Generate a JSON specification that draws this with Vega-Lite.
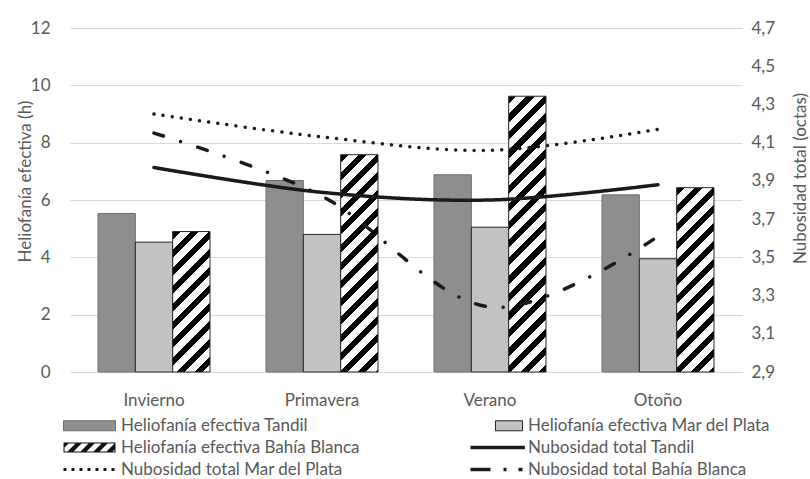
{
  "$schema": "https://vega.github.io/schema/vega-lite/v6.json",
  "width": 672,
  "height": 344,
  "autosize": {"type": "none"},
  "padding": {"left": 70, "top": 28, "right": 68, "bottom": 107},
  "background": "#ffffff",
  "data": {
    "values": [
      {"estacion": "Invierno", "serie": "Heliofanía efectiva Tandil", "tipo": "barra", "valor": 5.53},
      {"estacion": "Invierno", "serie": "Heliofanía efectiva Mar del Plata", "tipo": "barra", "valor": 4.53},
      {"estacion": "Invierno", "serie": "Heliofanía efectiva Bahía Blanca", "tipo": "barra", "valor": 4.90},
      {"estacion": "Primavera", "serie": "Heliofanía efectiva Tandil", "tipo": "barra", "valor": 6.68},
      {"estacion": "Primavera", "serie": "Heliofanía efectiva Mar del Plata", "tipo": "barra", "valor": 4.80},
      {"estacion": "Primavera", "serie": "Heliofanía efectiva Bahía Blanca", "tipo": "barra", "valor": 7.58},
      {"estacion": "Verano", "serie": "Heliofanía efectiva Tandil", "tipo": "barra", "valor": 6.88},
      {"estacion": "Verano", "serie": "Heliofanía efectiva Mar del Plata", "tipo": "barra", "valor": 5.05},
      {"estacion": "Verano", "serie": "Heliofanía efectiva Bahía Blanca", "tipo": "barra", "valor": 9.62},
      {"estacion": "Otoño", "serie": "Heliofanía efectiva Tandil", "tipo": "barra", "valor": 6.18},
      {"estacion": "Otoño", "serie": "Heliofanía efectiva Mar del Plata", "tipo": "barra", "valor": 3.95},
      {"estacion": "Otoño", "serie": "Heliofanía efectiva Bahía Blanca", "tipo": "barra", "valor": 6.43},
      {"estacion": "Invierno", "serie": "Nubosidad total Tandil", "tipo": "linea", "valor": 3.97},
      {"estacion": "Primavera", "serie": "Nubosidad total Tandil", "tipo": "linea", "valor": 3.84},
      {"estacion": "Verano", "serie": "Nubosidad total Tandil", "tipo": "linea", "valor": 3.80},
      {"estacion": "Otoño", "serie": "Nubosidad total Tandil", "tipo": "linea", "valor": 3.88},
      {"estacion": "Invierno", "serie": "Nubosidad total Mar del Plata", "tipo": "linea", "valor": 4.25},
      {"estacion": "Primavera", "serie": "Nubosidad total Mar del Plata", "tipo": "linea", "valor": 4.13},
      {"estacion": "Verano", "serie": "Nubosidad total Mar del Plata", "tipo": "linea", "valor": 4.06},
      {"estacion": "Otoño", "serie": "Nubosidad total Mar del Plata", "tipo": "linea", "valor": 4.17},
      {"estacion": "Invierno", "serie": "Nubosidad total Bahía Blanca", "tipo": "linea", "valor": 4.15},
      {"estacion": "Primavera", "serie": "Nubosidad total Bahía Blanca", "tipo": "linea", "valor": 3.82},
      {"estacion": "Verano", "serie": "Nubosidad total Bahía Blanca", "tipo": "linea", "valor": 3.24},
      {"estacion": "Otoño", "serie": "Nubosidad total Bahía Blanca", "tipo": "linea", "valor": 3.61}
    ]
  },
  "layer": [
    {
      "transform": [{"filter": "datum.tipo === 'barra'"}],
      "mark": {"type": "bar", "strokeWidth": 1},
      "encoding": {
        "x": {
          "field": "estacion", "type": "nominal", "sort": null,
          "scale": {"domain": ["Invierno", "Primavera", "Verano", "Otoño"], "paddingInner": 0.3333, "paddingOuter": 0.1667},
          "axis": {"title": null, "labelAngle": 0, "labelPadding": 20, "domain": true, "domainColor": "#d9d9d9", "ticks": false}
        },
        "xOffset": {
          "field": "serie", "type": "nominal", "sort": null,
          "scale": {"domain": ["Heliofanía efectiva Tandil", "Heliofanía efectiva Mar del Plata", "Heliofanía efectiva Bahía Blanca"], "paddingInner": 0, "paddingOuter": 0}
        },
        "y": {
          "field": "valor", "type": "quantitative",
          "scale": {"domain": [0, 12], "nice": false},
          "axis": {"orient": "left", "values": [0, 2, 4, 6, 8, 10, 12], "grid": true, "title": "Heliofanía efectiva (h)", "labelPadding": 20, "titleX": -45, "titleY": 153, "titleAngle": 270, "titleBaseline": "middle", "titleAlign": "center"}
        },
        "stroke": {
          "condition": {"test": "datum.serie === 'Heliofanía efectiva Tandil'", "value": "#6e6e6e"},
          "value": "#262626"
        },
        "fill": {
          "condition": [
            {"test": "datum.serie === 'Heliofanía efectiva Tandil'", "value": "#8f8d8e"},
            {"test": "datum.serie === 'Heliofanía efectiva Mar del Plata'", "value": "#c2c2c2"},
            {"test": "datum.estacion === 'Invierno'", "value": {"gradient": "linear", "x1": 0, "y1": 0, "x2": 0.5726, "y2": 2.1544, "stops": [{"offset":0,"color":"#000"},{"offset":0.025,"color":"#000"},{"offset":0.025,"color":"#fff"},{"offset":0.0556,"color":"#fff"},{"offset":0.0556,"color":"#000"},{"offset":0.0806,"color":"#000"},{"offset":0.0806,"color":"#fff"},{"offset":0.1111,"color":"#fff"},{"offset":0.1111,"color":"#000"},{"offset":0.1361,"color":"#000"},{"offset":0.1361,"color":"#fff"},{"offset":0.1667,"color":"#fff"},{"offset":0.1667,"color":"#000"},{"offset":0.1917,"color":"#000"},{"offset":0.1917,"color":"#fff"},{"offset":0.2222,"color":"#fff"},{"offset":0.2222,"color":"#000"},{"offset":0.2472,"color":"#000"},{"offset":0.2472,"color":"#fff"},{"offset":0.2778,"color":"#fff"},{"offset":0.2778,"color":"#000"},{"offset":0.3028,"color":"#000"},{"offset":0.3028,"color":"#fff"},{"offset":0.3333,"color":"#fff"},{"offset":0.3333,"color":"#000"},{"offset":0.3583,"color":"#000"},{"offset":0.3583,"color":"#fff"},{"offset":0.3889,"color":"#fff"},{"offset":0.3889,"color":"#000"},{"offset":0.4139,"color":"#000"},{"offset":0.4139,"color":"#fff"},{"offset":0.4444,"color":"#fff"},{"offset":0.4444,"color":"#000"},{"offset":0.4694,"color":"#000"},{"offset":0.4694,"color":"#fff"},{"offset":0.5,"color":"#fff"},{"offset":0.5,"color":"#000"},{"offset":0.525,"color":"#000"},{"offset":0.525,"color":"#fff"},{"offset":0.5556,"color":"#fff"},{"offset":0.5556,"color":"#000"},{"offset":0.5806,"color":"#000"},{"offset":0.5806,"color":"#fff"},{"offset":0.6111,"color":"#fff"},{"offset":0.6111,"color":"#000"},{"offset":0.6361,"color":"#000"},{"offset":0.6361,"color":"#fff"},{"offset":0.6667,"color":"#fff"},{"offset":0.6667,"color":"#000"},{"offset":0.6917,"color":"#000"},{"offset":0.6917,"color":"#fff"},{"offset":0.7222,"color":"#fff"},{"offset":0.7222,"color":"#000"},{"offset":0.7472,"color":"#000"},{"offset":0.7472,"color":"#fff"},{"offset":0.7778,"color":"#fff"},{"offset":0.7778,"color":"#000"},{"offset":0.8028,"color":"#000"},{"offset":0.8028,"color":"#fff"},{"offset":0.8333,"color":"#fff"},{"offset":0.8333,"color":"#000"},{"offset":0.8583,"color":"#000"},{"offset":0.8583,"color":"#fff"},{"offset":0.8889,"color":"#fff"},{"offset":0.8889,"color":"#000"},{"offset":0.9139,"color":"#000"},{"offset":0.9139,"color":"#fff"},{"offset":0.9444,"color":"#fff"},{"offset":0.9444,"color":"#000"},{"offset":0.9694,"color":"#000"},{"offset":0.9694,"color":"#fff"},{"offset":1,"color":"#fff"}]}},
            {"test": "datum.estacion === 'Primavera'", "value": {"gradient": "linear", "x1": 0, "y1": 0, "x2": 0.24884, "y2": 1.44834, "stops": [{"offset":0,"color":"#000"},{"offset":0.025,"color":"#000"},{"offset":0.025,"color":"#fff"},{"offset":0.0556,"color":"#fff"},{"offset":0.0556,"color":"#000"},{"offset":0.0806,"color":"#000"},{"offset":0.0806,"color":"#fff"},{"offset":0.1111,"color":"#fff"},{"offset":0.1111,"color":"#000"},{"offset":0.1361,"color":"#000"},{"offset":0.1361,"color":"#fff"},{"offset":0.1667,"color":"#fff"},{"offset":0.1667,"color":"#000"},{"offset":0.1917,"color":"#000"},{"offset":0.1917,"color":"#fff"},{"offset":0.2222,"color":"#fff"},{"offset":0.2222,"color":"#000"},{"offset":0.2472,"color":"#000"},{"offset":0.2472,"color":"#fff"},{"offset":0.2778,"color":"#fff"},{"offset":0.2778,"color":"#000"},{"offset":0.3028,"color":"#000"},{"offset":0.3028,"color":"#fff"},{"offset":0.3333,"color":"#fff"},{"offset":0.3333,"color":"#000"},{"offset":0.3583,"color":"#000"},{"offset":0.3583,"color":"#fff"},{"offset":0.3889,"color":"#fff"},{"offset":0.3889,"color":"#000"},{"offset":0.4139,"color":"#000"},{"offset":0.4139,"color":"#fff"},{"offset":0.4444,"color":"#fff"},{"offset":0.4444,"color":"#000"},{"offset":0.4694,"color":"#000"},{"offset":0.4694,"color":"#fff"},{"offset":0.5,"color":"#fff"},{"offset":0.5,"color":"#000"},{"offset":0.525,"color":"#000"},{"offset":0.525,"color":"#fff"},{"offset":0.5556,"color":"#fff"},{"offset":0.5556,"color":"#000"},{"offset":0.5806,"color":"#000"},{"offset":0.5806,"color":"#fff"},{"offset":0.6111,"color":"#fff"},{"offset":0.6111,"color":"#000"},{"offset":0.6361,"color":"#000"},{"offset":0.6361,"color":"#fff"},{"offset":0.6667,"color":"#fff"},{"offset":0.6667,"color":"#000"},{"offset":0.6917,"color":"#000"},{"offset":0.6917,"color":"#fff"},{"offset":0.7222,"color":"#fff"},{"offset":0.7222,"color":"#000"},{"offset":0.7472,"color":"#000"},{"offset":0.7472,"color":"#fff"},{"offset":0.7778,"color":"#fff"},{"offset":0.7778,"color":"#000"},{"offset":0.8028,"color":"#000"},{"offset":0.8028,"color":"#fff"},{"offset":0.8333,"color":"#fff"},{"offset":0.8333,"color":"#000"},{"offset":0.8583,"color":"#000"},{"offset":0.8583,"color":"#fff"},{"offset":0.8889,"color":"#fff"},{"offset":0.8889,"color":"#000"},{"offset":0.9139,"color":"#000"},{"offset":0.9139,"color":"#fff"},{"offset":0.9444,"color":"#fff"},{"offset":0.9444,"color":"#000"},{"offset":0.9694,"color":"#000"},{"offset":0.9694,"color":"#fff"},{"offset":1,"color":"#fff"}]}},
            {"test": "datum.estacion === 'Verano'", "value": {"gradient": "linear", "x1": 0, "y1": 0, "x2": 0.15619, "y2": 1.15374, "stops": [{"offset":0,"color":"#000"},{"offset":0.025,"color":"#000"},{"offset":0.025,"color":"#fff"},{"offset":0.0556,"color":"#fff"},{"offset":0.0556,"color":"#000"},{"offset":0.0806,"color":"#000"},{"offset":0.0806,"color":"#fff"},{"offset":0.1111,"color":"#fff"},{"offset":0.1111,"color":"#000"},{"offset":0.1361,"color":"#000"},{"offset":0.1361,"color":"#fff"},{"offset":0.1667,"color":"#fff"},{"offset":0.1667,"color":"#000"},{"offset":0.1917,"color":"#000"},{"offset":0.1917,"color":"#fff"},{"offset":0.2222,"color":"#fff"},{"offset":0.2222,"color":"#000"},{"offset":0.2472,"color":"#000"},{"offset":0.2472,"color":"#fff"},{"offset":0.2778,"color":"#fff"},{"offset":0.2778,"color":"#000"},{"offset":0.3028,"color":"#000"},{"offset":0.3028,"color":"#fff"},{"offset":0.3333,"color":"#fff"},{"offset":0.3333,"color":"#000"},{"offset":0.3583,"color":"#000"},{"offset":0.3583,"color":"#fff"},{"offset":0.3889,"color":"#fff"},{"offset":0.3889,"color":"#000"},{"offset":0.4139,"color":"#000"},{"offset":0.4139,"color":"#fff"},{"offset":0.4444,"color":"#fff"},{"offset":0.4444,"color":"#000"},{"offset":0.4694,"color":"#000"},{"offset":0.4694,"color":"#fff"},{"offset":0.5,"color":"#fff"},{"offset":0.5,"color":"#000"},{"offset":0.525,"color":"#000"},{"offset":0.525,"color":"#fff"},{"offset":0.5556,"color":"#fff"},{"offset":0.5556,"color":"#000"},{"offset":0.5806,"color":"#000"},{"offset":0.5806,"color":"#fff"},{"offset":0.6111,"color":"#fff"},{"offset":0.6111,"color":"#000"},{"offset":0.6361,"color":"#000"},{"offset":0.6361,"color":"#fff"},{"offset":0.6667,"color":"#fff"},{"offset":0.6667,"color":"#000"},{"offset":0.6917,"color":"#000"},{"offset":0.6917,"color":"#fff"},{"offset":0.7222,"color":"#fff"},{"offset":0.7222,"color":"#000"},{"offset":0.7472,"color":"#000"},{"offset":0.7472,"color":"#fff"},{"offset":0.7778,"color":"#fff"},{"offset":0.7778,"color":"#000"},{"offset":0.8028,"color":"#000"},{"offset":0.8028,"color":"#fff"},{"offset":0.8333,"color":"#fff"},{"offset":0.8333,"color":"#000"},{"offset":0.8583,"color":"#000"},{"offset":0.8583,"color":"#fff"},{"offset":0.8889,"color":"#fff"},{"offset":0.8889,"color":"#000"},{"offset":0.9139,"color":"#000"},{"offset":0.9139,"color":"#fff"},{"offset":0.9444,"color":"#fff"},{"offset":0.9444,"color":"#000"},{"offset":0.9694,"color":"#000"},{"offset":0.9694,"color":"#fff"},{"offset":1,"color":"#fff"}]}}
          ],
          "value": {"gradient": "linear", "x1": 0, "y1": 0, "x2": 0.34197, "y2": 1.68846, "stops": [{"offset":0,"color":"#000"},{"offset":0.025,"color":"#000"},{"offset":0.025,"color":"#fff"},{"offset":0.0556,"color":"#fff"},{"offset":0.0556,"color":"#000"},{"offset":0.0806,"color":"#000"},{"offset":0.0806,"color":"#fff"},{"offset":0.1111,"color":"#fff"},{"offset":0.1111,"color":"#000"},{"offset":0.1361,"color":"#000"},{"offset":0.1361,"color":"#fff"},{"offset":0.1667,"color":"#fff"},{"offset":0.1667,"color":"#000"},{"offset":0.1917,"color":"#000"},{"offset":0.1917,"color":"#fff"},{"offset":0.2222,"color":"#fff"},{"offset":0.2222,"color":"#000"},{"offset":0.2472,"color":"#000"},{"offset":0.2472,"color":"#fff"},{"offset":0.2778,"color":"#fff"},{"offset":0.2778,"color":"#000"},{"offset":0.3028,"color":"#000"},{"offset":0.3028,"color":"#fff"},{"offset":0.3333,"color":"#fff"},{"offset":0.3333,"color":"#000"},{"offset":0.3583,"color":"#000"},{"offset":0.3583,"color":"#fff"},{"offset":0.3889,"color":"#fff"},{"offset":0.3889,"color":"#000"},{"offset":0.4139,"color":"#000"},{"offset":0.4139,"color":"#fff"},{"offset":0.4444,"color":"#fff"},{"offset":0.4444,"color":"#000"},{"offset":0.4694,"color":"#000"},{"offset":0.4694,"color":"#fff"},{"offset":0.5,"color":"#fff"},{"offset":0.5,"color":"#000"},{"offset":0.525,"color":"#000"},{"offset":0.525,"color":"#fff"},{"offset":0.5556,"color":"#fff"},{"offset":0.5556,"color":"#000"},{"offset":0.5806,"color":"#000"},{"offset":0.5806,"color":"#fff"},{"offset":0.6111,"color":"#fff"},{"offset":0.6111,"color":"#000"},{"offset":0.6361,"color":"#000"},{"offset":0.6361,"color":"#fff"},{"offset":0.6667,"color":"#fff"},{"offset":0.6667,"color":"#000"},{"offset":0.6917,"color":"#000"},{"offset":0.6917,"color":"#fff"},{"offset":0.7222,"color":"#fff"},{"offset":0.7222,"color":"#000"},{"offset":0.7472,"color":"#000"},{"offset":0.7472,"color":"#fff"},{"offset":0.7778,"color":"#fff"},{"offset":0.7778,"color":"#000"},{"offset":0.8028,"color":"#000"},{"offset":0.8028,"color":"#fff"},{"offset":0.8333,"color":"#fff"},{"offset":0.8333,"color":"#000"},{"offset":0.8583,"color":"#000"},{"offset":0.8583,"color":"#fff"},{"offset":0.8889,"color":"#fff"},{"offset":0.8889,"color":"#000"},{"offset":0.9139,"color":"#000"},{"offset":0.9139,"color":"#fff"},{"offset":0.9444,"color":"#fff"},{"offset":0.9444,"color":"#000"},{"offset":0.9694,"color":"#000"},{"offset":0.9694,"color":"#fff"},{"offset":1,"color":"#fff"}]}
        }
      }
    },
    {
      "transform": [{"filter": "datum.tipo === 'linea'"}],
      "mark": {"type": "line", "interpolate": "cardinal", "strokeWidth": 3.5, "strokeCap": "round", "stroke": "#1a1a1a"},
      "encoding": {
        "x": {"field": "estacion", "type": "nominal", "sort": null},
        "y": {
          "field": "valor", "type": "quantitative",
          "scale": {"domain": [2.9, 4.7], "nice": false, "zero": false},
          "axis": {"orient": "right", "values": [2.9, 3.1, 3.3, 3.5, 3.7, 3.9, 4.1, 4.3, 4.5, 4.7], "grid": false, "labelExpr": "replace(format(datum.value, '.1f'), '.', ',')", "labelPadding": 9, "title": "Nubosidad total (octas)", "titleX": 58, "titleY": 150, "titleAngle": 270, "titleBaseline": "middle", "titleAlign": "center"}
        },
        "detail": {"field": "serie", "type": "nominal"},
        "strokeDash": {
          "condition": [
            {"test": "datum.serie === 'Nubosidad total Mar del Plata'", "value": [0.01, 9.2]},
            {"test": "datum.serie === 'Nubosidad total Bahía Blanca'", "value": [10, 18, 0.01, 18]}
          ],
          "value": [1, 0]
        }
      }
    },
    {
      "transform": [{"filter": "false"}],
      "mark": {"type": "point", "opacity": 1, "filled": true},
      "encoding": {
        "fill": {
          "field": "serie", "type": "nominal",
          "scale": {
            "domain": ["Heliofanía efectiva Tandil", "Heliofanía efectiva Bahía Blanca", "Nubosidad total Mar del Plata", "Heliofanía efectiva Mar del Plata", "Nubosidad total Tandil", "Nubosidad total Bahía Blanca"],
            "range": ["#8f8d8e", "#111111", "#1a1a1a", "#c2c2c2", "#1a1a1a", "#1a1a1a"]
          },
          "legend": {"title": null, "orient": "none", "legendX": -7, "legendY": 389, "columns": 2, "columnPadding": 108, "rowPadding": 4, "padding": 0, "symbolSize": 256, "symbolStrokeWidth": 1, "labelOffset": 41, "labelLimit": 500, "labelFont": "Lato", "labelFontSize": 17, "labelColor": "#595959"}
        },
        "stroke": {
          "field": "serie", "type": "nominal",
          "scale": {
            "domain": ["Heliofanía efectiva Tandil", "Heliofanía efectiva Bahía Blanca", "Nubosidad total Mar del Plata", "Heliofanía efectiva Mar del Plata", "Nubosidad total Tandil", "Nubosidad total Bahía Blanca"],
            "range": ["#6e6e6e", "transparent", "transparent", "#262626", "transparent", "transparent"]
          },
          "legend": {"title": null, "orient": "none", "legendX": -7, "legendY": 389, "columns": 2, "columnPadding": 108, "rowPadding": 4, "padding": 0, "symbolSize": 256, "symbolStrokeWidth": 1, "labelOffset": 41, "labelLimit": 500, "labelFont": "Lato", "labelFontSize": 17, "labelColor": "#595959"}
        },
        "shape": {
          "field": "serie", "type": "nominal",
          "scale": {
            "domain": ["Heliofanía efectiva Tandil", "Heliofanía efectiva Bahía Blanca", "Nubosidad total Mar del Plata", "Heliofanía efectiva Mar del Plata", "Nubosidad total Tandil", "Nubosidad total Bahía Blanca"],
            "range": [
              "M-1,-0.625H5.5V0.625H-1Z",
              "M-1,-0.625H5.5V0.625H-1Z M-0.875,-0.5V0.5H5.375V-0.5Z M-1,-0.625L-0.25,-0.625L-1,0.125Z M0.625,-0.625L1.375,-0.625L0.125,0.625L-0.625,0.625Z M2.25,-0.625L3,-0.625L1.75,0.625L1,0.625Z M3.875,-0.625L4.625,-0.625L3.375,0.625L2.625,0.625Z M5.5,-0.625L5.5,0.125L5,0.625L4.25,0.625Z",
              "M-1,-0.19H-0.625V0.19H-1Z M0,-0.19H0.375V0.19H0Z M1,-0.19H1.375V0.19H1Z M2,-0.19H2.375V0.19H2Z M3,-0.19H3.375V0.19H3Z M4,-0.19H4.375V0.19H4Z M5,-0.19H5.375V0.19H5Z",
              "M2.125,-0.625H5.5V0.625H2.125Z",
              "M-1,-0.22H5.8V0.22H-1Z",
              "M-1,-0.22H1.5V0.22H-1Z M3.125,-0.22H3.5V0.22H3.125Z M5,-0.22H5.5V0.22H5Z"
            ]
          },
          "legend": {"title": null, "orient": "none", "legendX": -7, "legendY": 389, "columns": 2, "columnPadding": 108, "rowPadding": 4, "padding": 0, "symbolSize": 256, "symbolStrokeWidth": 1, "labelOffset": 41, "labelLimit": 500, "labelFont": "Lato", "labelFontSize": 17, "labelColor": "#595959"}
        }
      }
    }
  ],
  "resolve": {"scale": {"y": "independent"}},
  "config": {
    "font": "Lato",
    "view": {"stroke": null},
    "axis": {
      "labelFont": "Lato",
      "labelFontSize": 17,
      "labelColor": "#595959",
      "titleFont": "Lato",
      "titleFontSize": 17,
      "titleColor": "#595959",
      "titleFontWeight": "normal",
      "ticks": false,
      "domain": false,
      "gridColor": "#d9d9d9",
      "gridWidth": 1
    }
  }
}
